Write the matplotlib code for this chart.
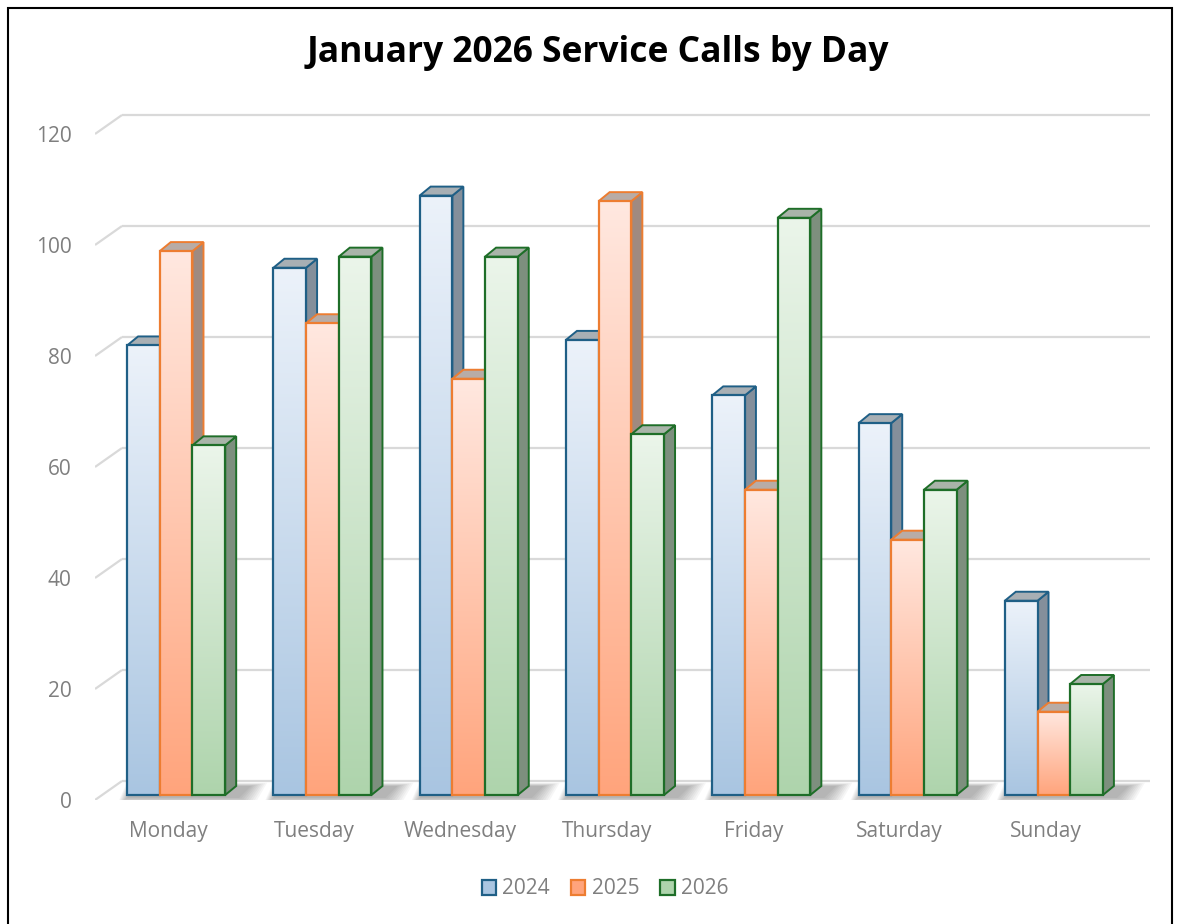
import matplotlib.pyplot as plt
import numpy as np
from matplotlib.patches import Polygon, Rectangle, Patch
from matplotlib.colors import LinearSegmentedColormap

days = ['Monday', 'Tuesday', 'Wednesday', 'Thursday', 'Friday', 'Saturday', 'Sunday']
years = ['2024', '2025', '2026']
calls_2024 = [81, 95, 108, 82, 72, 67, 35]
calls_2025 = [98, 85, 75, 107, 55, 46, 15]
calls_2026 = [63, 97, 97, 65, 104, 55, 20]
y_ticks = [0, 20, 40, 60, 80, 100, 120]

series = [calls_2024, calls_2025, calls_2026]
edges = ['#1f5f86', '#ed7d31', '#1e6e28']
tops = [('#ecf2fa', '#a9c5e1'), ('#ffe8e0', '#ffa47c'), ('#ebf5ea', '#aed4ac')]
sides = ['#848f9b', '#a08a80', '#7d8f7e']
lids = ['#a8afb4', '#b8aca6', '#a9b4a9']

W, H = 1180, 924
fig = plt.figure(figsize=(W / 100, H / 100), dpi=100)
fig.patch.set_facecolor('white')

# axes spans pixels x 95..1150, y 110..800 (from top)
ax = fig.add_axes([95 / W, (H - 800) / H, (1150 - 95) / W, (800 - 110) / H])
px_x = 1024 / 7.0      # pixels per category
px_y = 666 / 120.0     # pixels per call
sx = 1 / px_x
sy = 1 / px_y
xmax = -0.5 + (1150 - 95) * sx
ymax = (800 - 110) * sy

# depth offsets (in data units)
bx, by = 27 * sx, 19 * sy      # back wall
ox, oy = 8 * sx, 5 * sy        # bar front plane
ddx, ddy = 11 * sx, 9 * sy     # bar depth
bw = 32.7 * sx

# gridlines on back wall
for v in y_ticks:
    ax.plot([-0.5, -0.5 + bx], [v, v + by], color='#d9d9d9', lw=1.6, zorder=1,
            solid_capstyle='butt')
    ax.plot([-0.5 + bx, xmax], [v + by, v + by], color='#d9d9d9', lw=1.6, zorder=1,
            solid_capstyle='butt')

grad = np.linspace(0, 1, 256).reshape(-1, 1)

for i, day in enumerate(days):
    g0 = i - 1.5 * bw + ox
    g1 = g0 + 3 * bw
    # soft floor shadow
    for s in np.linspace(0, 16, 9):
        shadow = Polygon([(g0 - s * sx * 0.6, oy - (3 + s * 0.35) * sy),
                          (g1 + (14 + s) * sx, oy - (3 + s * 0.35) * sy),
                          (g1 + (26 + s) * sx, oy + ddy + s * 0.2 * sy),
                          (g0 + (6 - s * 0.4) * sx, oy + ddy + s * 0.2 * sy)],
                         closed=True, facecolor='black', edgecolor='none',
                         alpha=0.035, zorder=2)
        ax.add_patch(shadow)
    for k in range(3):
        v = series[k][i]
        x0 = g0 + k * bw
        z = 10 + i * 10 + k * 3
        cmap = LinearSegmentedColormap.from_list('g%d' % k, tops[k])
        ax.imshow(grad, extent=[x0, x0 + bw, oy, oy + v], aspect='auto',
                  cmap=cmap, zorder=z + 1, interpolation='bilinear')
        ax.bar(x0, v, width=bw, bottom=oy, align='edge', facecolor='none',
               edgecolor=edges[k], lw=1.6, zorder=z + 2)
        side = Polygon([(x0 + bw, oy), (x0 + bw + ddx, oy + ddy),
                        (x0 + bw + ddx, oy + v + ddy), (x0 + bw, oy + v)],
                       closed=True, facecolor=sides[k], edgecolor=edges[k],
                       lw=1.4, zorder=z, joinstyle='miter')
        lid = Polygon([(x0, oy + v), (x0 + ddx, oy + v + ddy),
                       (x0 + bw + ddx, oy + v + ddy), (x0 + bw, oy + v)],
                      closed=True, facecolor=lids[k], edgecolor=edges[k],
                      lw=1.4, zorder=z, joinstyle='miter')
        ax.add_patch(side)
        ax.add_patch(lid)

ax.set_xlim(-0.5, xmax)
ax.set_ylim(0, ymax)
for sp in ax.spines.values():
    sp.set_visible(False)
ax.set_xticks(range(len(days)))
ax.set_xticklabels(days)
ax.set_yticks(y_ticks)
ax.tick_params(length=0, labelcolor='#7f7f7f', labelsize=15)
ax.tick_params(axis='y', pad=17)
ax.tick_params(axis='x', pad=15)
for lab in ax.get_xticklabels() + ax.get_yticklabels():
    lab.set_fontfamily('Open Sans')

fig.text(598 / W, (H - 53) / H, 'January 2026 Service Calls by Day',
         ha='center', va='center', fontsize=25.5, fontweight='bold',
         family='Open Sans', color='black')

handles = [Patch(facecolor=tops[k][1], edgecolor=edges[k], lw=1.6, label=years[k])
           for k in range(3)]
leg = fig.legend(handles=handles, loc='center', bbox_to_anchor=(605 / W, (H - 889) / H),
                 ncol=3, frameon=False, handlelength=0.7, handleheight=0.7,
                 handletextpad=0.3, columnspacing=1.0,
                 prop={'family': 'Open Sans', 'size': 15})
for t in leg.get_texts():
    t.set_color('#7f7f7f')

fig.patches.append(Rectangle((8 / W, -0.01), (1172 - 8) / W, (H - 8) / H + 0.01,
                             transform=fig.transFigure, fill=False,
                             edgecolor='black', lw=1.5))

fig.savefig('out.png', dpi=100)
